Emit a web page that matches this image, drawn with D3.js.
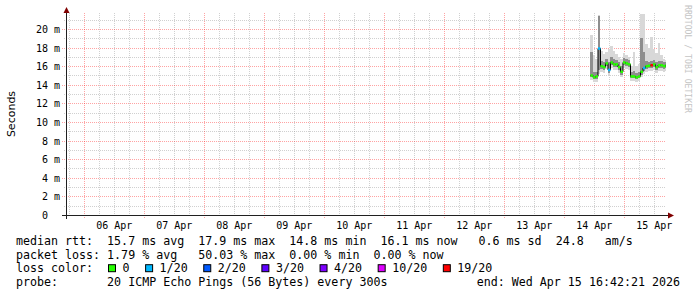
<!DOCTYPE html>
<html>
<head>
<meta charset="utf-8">
<script src="https://cdn.jsdelivr.net/npm/d3@7"></script>
<style>
  body { margin: 0; background: #fff; }
  text { white-space: pre; }
</style>
</head>
<body>
<div id="chart"></div>
<script>
var width = 697;
var height = 297;

// one entry per hour of probing (start of each step)
var times = ["2026-04-14 10:30", "2026-04-14 11:30", "2026-04-14 12:30", "2026-04-14 13:30", "2026-04-14 14:30",
  "2026-04-14 15:30", "2026-04-14 16:30", "2026-04-14 17:30", "2026-04-14 18:30", "2026-04-14 19:30",
  "2026-04-14 20:30", "2026-04-14 21:30", "2026-04-14 22:30", "2026-04-14 23:30", "2026-04-15 00:30",
  "2026-04-15 01:30", "2026-04-15 02:30", "2026-04-15 03:30", "2026-04-15 04:30", "2026-04-15 05:30",
  "2026-04-15 06:30", "2026-04-15 07:30", "2026-04-15 08:30", "2026-04-15 09:30", "2026-04-15 10:30",
  "2026-04-15 11:30", "2026-04-15 12:30", "2026-04-15 13:30", "2026-04-15 14:30", "2026-04-15 15:30",
  "2026-04-15 16:30"];
// median rtt in ms
var median = [15.0, 14.8, 14.9, 17.9, 16.0, 15.9, 16.3, 15.6, 16.4, 16.2, 16.2, 15.9, 15.4, 16.4, 16.3,
  16.2, 14.9, 14.9, 14.8, 14.9, 15.4, 15.8, 16.0, 16.05, 16.1, 16.2, 15.9, 16.1, 16.1, 16.0, 16.1];
// lost pings out of 20
var loss = [0, 0, 0, 1, 0, 0, 0, 1, 0, 0, 0, 0, 0, 0, 0, 0, 0, 0, 0, 0, 0, 1, 0, 0, 19, 0, 0, 0, 0, 0, 0];
// smoke: spread of the 20 pings (ms)
var pingHi = [19.4, 17.2, 16.8, 21.5, 17.6, 17.3, 17.5, 17.9, 18.2, 17.6, 17.3, 17.0, 16.8, 17.4, 17.2,
  17.0, 16.0, 17.5, 16.0, 16.2, 21.6, 21.6, 18.4, 18.0, 19.1, 17.8, 17.4, 18.5, 17.2, 16.8, 16.7];
var pingQ3 = [17.5, 15.4, 15.4, 21.4, 16.6, 16.5, 16.8, 16.4, 17.0, 16.8, 16.7, 16.5, 16.0, 16.9, 16.8,
  16.7, 15.4, 15.5, 15.3, 15.4, 19.0, 17.5, 16.6, 16.5, 16.6, 16.7, 16.4, 16.6, 16.6, 16.5, 16.5];
var pingQ1 = [14.8, 14.6, 14.6, 15.6, 15.7, 15.6, 16.0, 15.3, 16.1, 15.9, 15.9, 15.6, 15.1, 16.1, 16.0,
  15.9, 14.7, 14.7, 14.6, 14.7, 15.1, 15.5, 15.7, 15.8, 15.8, 15.9, 15.6, 15.8, 15.8, 15.7, 15.8];
var pingLo = [14.5, 14.3, 14.3, 15.2, 15.4, 15.3, 15.7, 15.0, 15.8, 15.6, 15.6, 15.3, 14.8, 15.8, 15.7,
  15.6, 14.4, 14.4, 14.3, 14.4, 14.8, 15.2, 15.4, 15.5, 15.5, 15.6, 15.3, 15.5, 15.5, 15.4, 15.5];

var lossLevels = [0, 1, 2, 3, 4, 10, 19];
var lossLabels = ["0", "1/20", "2/20", "3/20", "4/20", "10/20", "19/20"];
var lossColors = ["#26ff00", "#00b8ff", "#0059ff", "#5e00ff", "#7e00ff", "#dd00ff", "#ff0000"];

var yTicks = [0, 2, 4, 6, 8, 10, 12, 14, 16, 18, 20];
var yTickLabels = [" 0  ", " 2 m", " 4 m", " 6 m", " 8 m", "10 m", "12 m", "14 m", "16 m", "18 m", "20 m"];

var graphStart = "2026-04-05 16:42:21";
var graphEnd = "2026-04-15 16:42:21";

var statLines = [
  "median rtt:  15.7 ms avg  17.9 ms max  14.8 ms min  16.1 ms now   0.6 ms sd  24.8   am/s",
  "packet loss: 1.79 % avg   50.03 % max  0.00 % min  0.00 % now",
  "loss color:",
  "probe:       20 ICMP Echo Pings (56 Bytes) every 300s"
];
var endLabel = "end: Wed Apr 15 16:42:21 2026";

var parseT = d3.utcParse("%Y-%m-%d %H:%M");
var parseFull = d3.utcParse("%Y-%m-%d %H:%M:%S");
var t0 = parseFull(graphStart), t1 = parseFull(graphEnd);

var svg = d3.select("#chart")
  .append("svg")
  .attr("width", width)
  .attr("height", height)
  .style("display", "block");

var x = d3.scaleUtc().domain([t0, t1]).range([66, 666]);
var y = d3.scaleLinear().domain([0, 21.72]).range([215, 13]);
var mono = "'DejaVu Sans Mono', monospace";

var gridRed = "rgba(255,0,0,0.36)";
var gridGray = "rgba(143,143,143,0.42)";

// minor grid
var grid = svg.append("g");
var minorY = d3.range(1, 22).filter(function(v) { return v % 2 != 0; });
grid.selectAll(".hmin").data(minorY).enter().append("line")
  .attr("x1", 64).attr("x2", 666)
  .attr("y1", function(d) { return Math.round(y(d)) + 0.5; })
  .attr("y2", function(d) { return Math.round(y(d)) + 0.5; })
  .attr("stroke", gridGray).attr("stroke-dasharray", "1,1");
var sixHours = d3.utcHour.every(6).range(t0, t1).filter(function(d) { return d.getUTCHours() != 0; });
grid.selectAll(".vmin").data(sixHours).enter().append("line")
  .attr("y1", 13).attr("y2", 217)
  .attr("x1", function(d) { return Math.round(x(d)) + 0.5; })
  .attr("x2", function(d) { return Math.round(x(d)) + 0.5; })
  .attr("stroke", gridGray).attr("stroke-dasharray", "1,1");

// major grid
grid.selectAll(".hmaj").data(yTicks.slice(1)).enter().append("line")
  .attr("x1", 62).attr("x2", 666)
  .attr("y1", function(d) { return Math.round(y(d)) + 0.5; })
  .attr("y2", function(d) { return Math.round(y(d)) + 0.5; })
  .attr("stroke", gridRed).attr("stroke-dasharray", "1,1");
var days = d3.utcDay.range(t0, t1);
grid.selectAll(".vmaj").data(days).enter().append("line")
  .attr("y1", 13).attr("y2", 219)
  .attr("x1", function(d) { return Math.round(x(d)) + 0.5; })
  .attr("x2", function(d) { return Math.round(x(d)) + 0.5; })
  .attr("stroke", gridRed).attr("stroke-dasharray", "1,1");

// smoke
var samples = times.map(function(t, i) {
  var s = parseT(t);
  var e = d3.min([d3.utcHour.offset(s, 1), t1]);
  return { s: s, e: e, med: median[i], loss: loss[i], lo: pingLo[i], q1: pingQ1[i], q3: pingQ3[i], hi: pingHi[i] };
});

var smoke = svg.append("g");
smoke.selectAll(".outer").data(samples).enter().append("rect")
  .attr("x", function(d) { return x(d.s); })
  .attr("width", function(d) { return x(d.e) - x(d.s); })
  .attr("y", function(d) { return y(d.hi); })
  .attr("height", function(d) { return y(d.lo) - y(d.hi); })
  .attr("fill", "#d8d8d8")
  .attr("shape-rendering", "crispEdges");
smoke.selectAll(".inner").data(samples).enter().append("rect")
  .attr("x", function(d) { return x(d.s); })
  .attr("width", function(d) { return x(d.e) - x(d.s); })
  .attr("y", function(d) { return y(d.q3); })
  .attr("height", function(d) { return y(d.q1) - y(d.q3); })
  .attr("fill", "#8e8e8e")
  .attr("shape-rendering", "crispEdges");

// median line: black steps, coloured by loss
var stepPts = [];
samples.forEach(function(d) { stepPts.push([x(d.s), y(d.med)]); stepPts.push([x(d.e), y(d.med)]); });
svg.append("path")
  .attr("d", d3.line()(stepPts))
  .attr("fill", "none")
  .attr("stroke", "#000")
  .attr("stroke-width", 1);

var lossColor = d3.scaleThreshold()
  .domain(lossLevels.slice(1))
  .range(lossColors);
svg.append("g").selectAll("line").data(samples).enter().append("line")
  .attr("x1", function(d) { return x(d.s); })
  .attr("x2", function(d) { return x(d.e); })
  .attr("y1", function(d) { return y(d.med); })
  .attr("y2", function(d) { return y(d.med); })
  .attr("stroke", function(d) { return lossColor(d.loss); })
  .attr("stroke-width", 2.5);

// axes
var axisCol = "#202020";
svg.append("line").attr("x1", 62).attr("x2", 669).attr("y1", 215.5).attr("y2", 215.5).attr("stroke", axisCol);
svg.append("line").attr("x1", 66.5).attr("x2", 66.5).attr("y1", 219).attr("y2", 11).attr("stroke", axisCol);
svg.append("path").attr("d", "M668,212.5L674,215.5L668,218.5Z").attr("fill", "#800000");
svg.append("path").attr("d", "M63.5,13L66.5,7L69.5,13Z").attr("fill", "#800000");

// y tick labels
svg.append("g").selectAll("text").data(yTicks).enter().append("text")
  .attr("x", 60)
  .attr("y", function(d) { return Math.round(y(d)) + 4; })
  .attr("text-anchor", "end")
  .attr("font-family", mono).attr("font-size", "10px")
  .text(function(d, i) { return yTickLabels[i]; });

// x tick labels at noon
var noons = days.map(function(d) { return d3.utcHour.offset(d, 12); });
svg.append("g").selectAll("text").data(noons).enter().append("text")
  .attr("x", function(d) { return x(d); })
  .attr("y", 229)
  .attr("text-anchor", "middle")
  .attr("font-family", mono).attr("font-size", "10px")
  .text(d3.utcFormat("%d %b"));

svg.append("text")
  .attr("transform", "translate(15,114) rotate(-90)")
  .attr("text-anchor", "middle")
  .attr("font-family", "'DejaVu Sans', sans-serif").attr("font-size", "11px")
  .text("Seconds");

svg.append("text")
  .attr("transform", "translate(685,5) rotate(90)")
  .attr("font-family", mono).attr("font-size", "9.5px")
  .attr("fill", "#c4c4c4")
  .attr("textLength", 108).attr("lengthAdjust", "spacingAndGlyphs")
  .text("RRDTOOL / TOBI OETIKER");

// statistics / legend
var lineY = [245, 258.6, 272.2, 285.8];
svg.append("g").selectAll("text").data(statLines).enter().append("text")
  .attr("x", 16)
  .attr("y", function(d, i) { return lineY[i]; })
  .attr("font-family", mono).attr("font-size", "11.65px")
  .text(function(d) { return d; });

svg.append("text")
  .attr("x", 680).attr("y", lineY[3])
  .attr("text-anchor", "end")
  .attr("font-family", mono).attr("font-size", "11.65px")
  .text(endLabel);

var lg = svg.append("g");
var lx = 108.5;
lossLabels.forEach(function(lab, i) {
  lg.append("rect")
    .attr("x", lx).attr("y", lineY[2] - 7.5)
    .attr("width", 7).attr("height", 7)
    .attr("fill", lossColors[i])
    .attr("stroke", "#000");
  lg.append("text")
    .attr("x", lx + 14).attr("y", lineY[2])
    .attr("font-family", mono).attr("font-size", "11.65px")
    .text(lab);
  lx += 14.5 + lab.length * 7.01 + 15.6;
});
</script>
</body>
</html>
